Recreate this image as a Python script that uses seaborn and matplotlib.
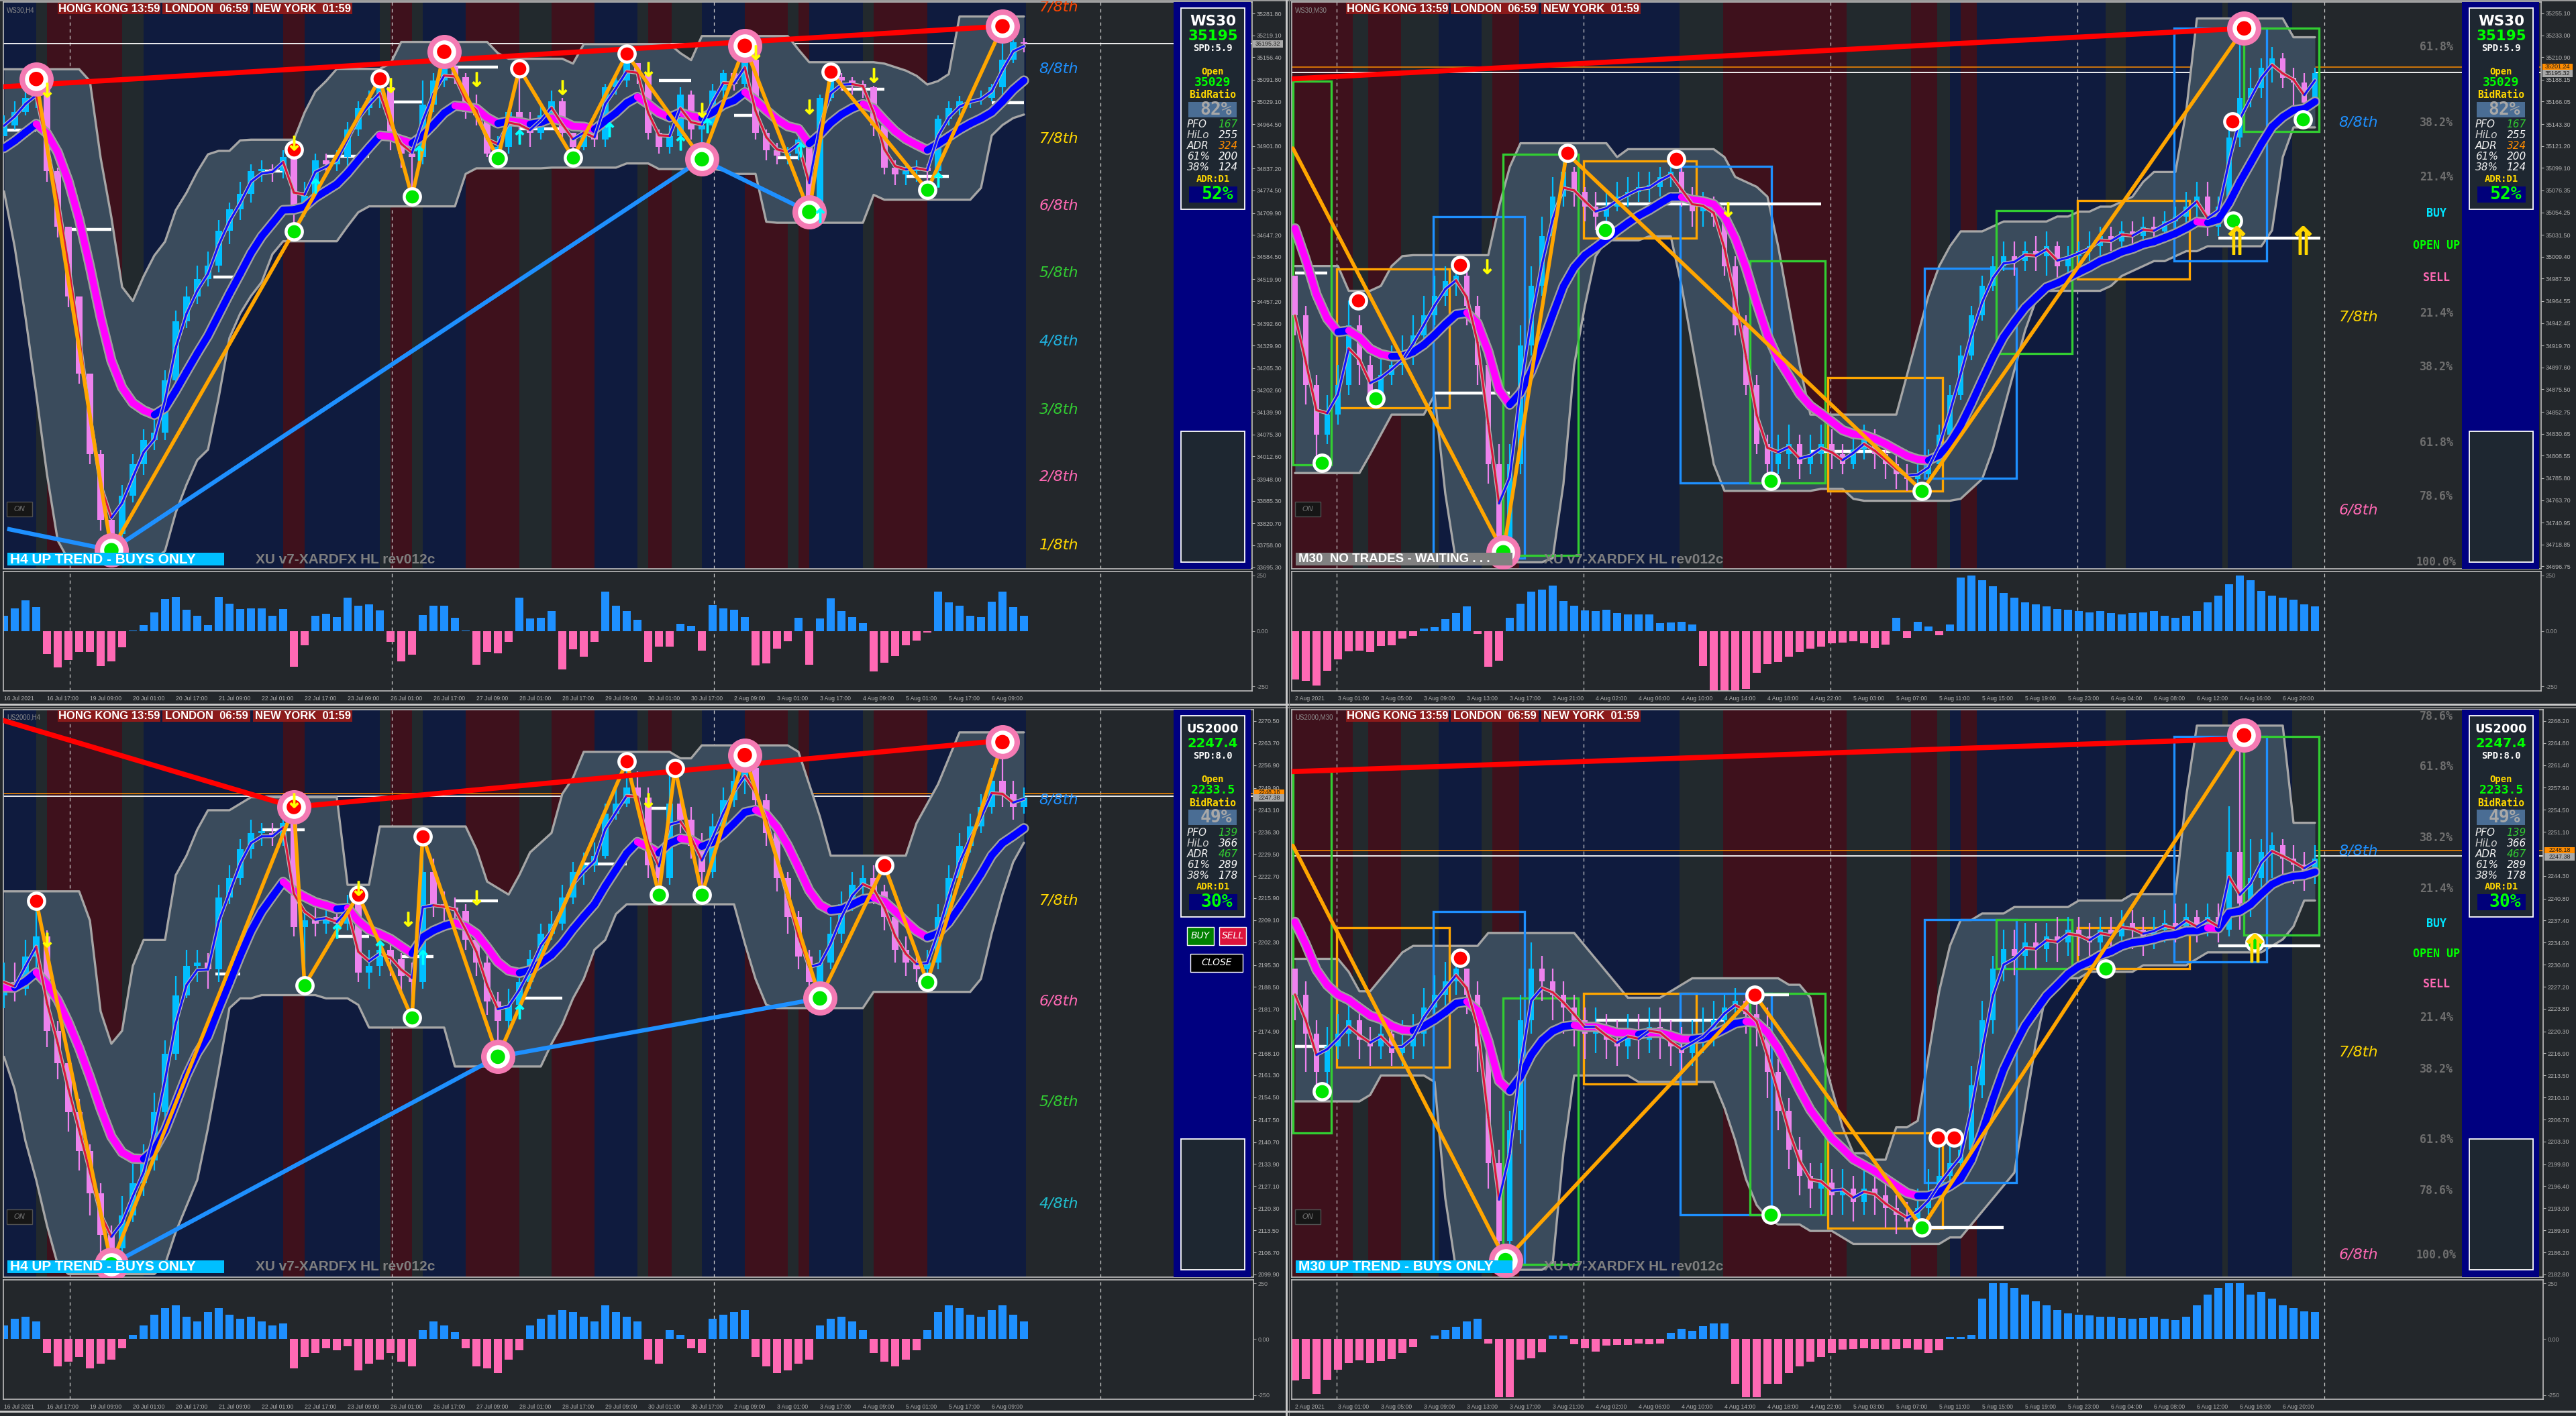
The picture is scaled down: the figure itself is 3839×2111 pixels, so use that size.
import numpy as np
import pandas as pd
import matplotlib
matplotlib.use("Agg")
import matplotlib.pyplot as plt
import seaborn as sns
from matplotlib.patches import Rectangle
from matplotlib.collections import LineCollection
from matplotlib import font_manager

W, H, DPI = 3839, 2111, 100

# ====================== DATA ======================
H4_dates = ["16 Jul 2021", "16 Jul 17:00", "19 Jul 09:00", "20 Jul 01:00", "20 Jul 17:00", "21 Jul 09:00",
            "22 Jul 01:00", "22 Jul 17:00", "23 Jul 09:00", "26 Jul 01:00", "26 Jul 17:00", "27 Jul 09:00",
            "28 Jul 01:00", "28 Jul 17:00", "29 Jul 09:00", "30 Jul 01:00", "30 Jul 17:00", "2 Aug 09:00",
            "3 Aug 01:00", "3 Aug 17:00", "4 Aug 09:00", "5 Aug 01:00", "5 Aug 17:00", "6 Aug 09:00"]
M30_dates = ["2 Aug 2021", "3 Aug 01:00", "3 Aug 05:00", "3 Aug 09:00", "3 Aug 13:00", "3 Aug 17:00",
             "3 Aug 21:00", "4 Aug 02:00", "4 Aug 06:00", "4 Aug 10:00", "4 Aug 14:00", "4 Aug 18:00",
             "4 Aug 22:00", "5 Aug 03:00", "5 Aug 07:00", "5 Aug 11:00", "5 Aug 15:00", "5 Aug 19:00",
             "5 Aug 23:00", "6 Aug 04:00", "6 Aug 08:00", "6 Aug 12:00", "6 Aug 16:00", "6 Aug 20:00"]

# session stripes in candle-index units (R = Asia red, N = navy, G = gray)
H4_st_s = [-0.1, 3, 4, 11, 13, 26, 28, 35, 36, 38, 39, 43, 48, 51, 55, 59, 60, 62.2, 65, 69, 73, 74, 75, 80, 81, 86]
H4_st_e = [3, 4, 11, 13, 26, 28, 35, 36, 38, 39, 43, 48, 51, 55, 59, 60, 62.2, 65, 69, 73, 74, 75, 80, 81, 86, 95.2]
H4_st_k = "NGRGNRNGRGNRGRNGRGNRGRNGRN"
M30_st_s = [-0.4, 5.4, 6.8, 9.9, 13.4, 17.4, 18.4, 20.9, 35.8, 39.9, 51.4, 57.4, 59.8, 61, 62, 63.5, 75.5, 77.4, 86.4, 86.9, 92.9]
M30_st_e = [5.4, 6.8, 9.9, 13.4, 17.4, 18.4, 20.9, 35.8, 39.9, 51.4, 57.4, 59.8, 61, 62, 63.5, 75.5, 77.4, 86.4, 86.9, 92.9, 95.6]
M30_st_k = "RGRGNGRNGRGRGNRNGNGNG"
H4_seps = [6.1, 36.1, 66.1, 102.1]
M30_seps = [3.9, 26.9, 49.9, 72.9, 95.9]

# ---------- WS30 H4 ----------
TL_open0 = 34930
TL_ma0 = 34880
TL_close = [34960, 35000, 35040, 35060, 34830, 34670, 34470, 34250, 34020, 33830,
            33790, 33900, 33990, 34060, 34080, 34230, 34400, 34470, 34520, 34560,
            34660, 34720, 34765, 34830, 34835, 34830, 34870, 34725, 34760, 34860,
            34850, 34870, 34950, 35010, 35040, 35070, 34920, 34880, 34870, 35020,
            35090, 35130, 35100, 35000, 34990, 34880, 34900, 35000, 34960, 34940,
            34990, 35030, 34940, 34900, 34950, 34920, 35070, 35090, 35140, 35110,
            34940, 34900, 34930, 35050, 34950, 34960, 35060, 35110, 35080, 35150,
            34940, 34890, 34875, 34880, 34920, 34740, 35040, 35100, 35090, 35080,
            35070, 34960, 34840, 34820, 34830, 34840, 34830, 34980, 35010, 35030,
            35035, 35040, 35070, 35150, 35200, 35195]
TL_high = [34990, 35030, 35060, 35094, 35060, 34840, 34670, 34470, 34250, 34030,
           33850, 33930, 34020, 34090, 34120, 34260, 34430, 34500, 34560, 34600,
           34690, 34740, 34800, 34850, 34860, 34850, 34890, 34892, 34800, 34880,
           34880, 34890, 34970, 35030, 35060, 35095, 35070, 34930, 34890, 35090,
           35110, 35172, 35140, 35110, 35050, 34995, 34930, 35010, 35124, 35000,
           35020, 35060, 35040, 34940, 34970, 34960, 35080, 35110, 35166, 35140,
           35110, 34950, 34960, 35070, 35060, 34970, 35080, 35120, 35120, 35189,
           35150, 34950, 34910, 34900, 34930, 34920, 35050, 35114, 35110, 35100,
           35090, 35075, 34960, 34860, 34850, 34860, 34850, 34990, 35030, 35045,
           35050, 35060, 35080, 35245, 35215, 35210]
TL_low = [34930, 34950, 34990, 35010, 34800, 34640, 34440, 34220, 33990, 33800,
          33744, 33770, 33880, 33960, 34030, 34060, 34210, 34380, 34450, 34500,
          34540, 34620, 34690, 34740, 34800, 34800, 34810, 34657, 34700, 34740,
          34820, 34830, 34840, 34930, 34990, 35010, 34890, 34840, 34757, 34850,
          35000, 35070, 35080, 34980, 34960, 34870, 34866, 34880, 34940, 34900,
          34920, 34980, 34920, 34868, 34890, 34900, 34900, 35050, 35070, 35080,
          34920, 34880, 34880, 34910, 34920, 34864, 34940, 35040, 35060, 35060,
          34920, 34860, 34850, 34850, 34860, 34713, 34710, 35030, 35060, 35050,
          35040, 34930, 34820, 34790, 34790, 34800, 34776, 34810, 34960, 34990,
          35010, 35020, 35030, 35030, 35140, 35170]
TL_hist = [70, 102, 138, 108, -105, -165, -131, -96, -96, -158,
           -137, -74, 3, 27, 84, 144, 153, 97, 70, 27,
           153, 123, 100, 102, 102, 70, 99, -161, -63, 70,
           78, 63, 150, 114, 120, 93, -50, -138, -107, 72,
           114, 114, 60, 2, -152, -96, -101, -50, 150, 57,
           60, 90, -173, -84, -117, -50, 177, 114, 90, 51,
           -140, -70, -70, 33, 24, -90, 117, 102, 96, 63,
           -156, -147, -81, -47, 60, -153, 57, 147, 90, 63,
           36, -183, -144, -114, -63, -42, -6, 177, 129, 114,
           69, 63, 132, 177, 108, 69]
TL_zz_i = [3, 10, 27, 35, 38, 41, 46, 48, 53, 58, 65, 69, 75, 77, 86, 93]
TL_zz_p = [35094, 33744, 34657, 35095, 34757, 35172, 34866, 35124, 34868, 35166, 34864, 35189, 34713, 35114, 34776, 35245]
TL_red_i = [27, 35, 48, 58, 77]
TL_red_p = [34892, 35095, 35124, 35166, 35114]
TL_grn_i = [27, 38, 46, 53, 86]
TL_grn_p = [34657, 34757, 34866, 34868, 34776]
TL_tgt_i = [3, 10, 41, 65, 69, 75, 93]
TL_tgt_p = [35094, 33744, 35172, 34864, 35189, 34713, 35245]
TL_tgt_c = "rgrgrgr"
TL_redline = [(-0.4, 35071, 93, 35245)]
TL_blueline = [(0.3, 33805, 10, 33744), (10, 33744, 65, 34864), (65, 34864, 75, 34713)]
TL_dn_i = [4, 27, 36, 44, 52, 60, 65, 70, 75, 81]
TL_dn_p = [35062, 34910, 35076, 35093, 35070, 35122, 35006, 35170, 35014, 35105]
TL_up_i = [29, 38.6, 48, 56.4, 63, 65.5, 74.2, 76, 87]
TL_up_p = [34787, 34883, 34929, 34950, 34910, 34960, 34891, 34704, 34806]
TL_whites = [(0, 3, 34948), (6, 10, 34663), (19.5, 22, 34527), (24, 26, 34830), (30, 34, 34872), (36, 39, 35028),
             (42, 46, 35129), (48, 52, 34951), (61, 64, 35090), (68, 70, 34990), (72, 74, 34868), (78, 82, 35064),
             (84, 88, 34815), (92, 95, 35026)]
TL_yticks = [35281.80, 35219.10, 35156.40, 35091.80, 35029.10, 34964.50, 34901.80, 34837.20, 34774.50, 34709.90,
             34647.20, 34584.50, 34519.90, 34457.20, 34392.60, 34329.90, 34265.30, 34202.60, 34139.90, 34075.30,
             34012.60, 33948.00, 33885.30, 33820.70, 33758.00, 33695.30]

# ---------- WS30 M30 ----------
TR_open0 = 34990
TR_ma0 = 35060
TR_close = [34950, 34880, 34830, 34850, 34880, 34940, 34900, 34870, 34890, 34900,
            34910, 34930, 34950, 34970, 34985, 34990, 34960, 34900, 34800, 34720,
            34800, 34920, 34980, 35030, 35070, 35095, 35075, 35060, 35050, 35060,
            35070, 35075, 35080, 35080, 35090, 35095, 35070, 35055, 35060, 35050,
            35000, 34940, 34880, 34820, 34800, 34810, 34820, 34800, 34810, 34820,
            34810, 34800, 34815, 34825, 34810, 34800, 34790, 34785, 34790, 34800,
            34830, 34870, 34910, 34950, 34980, 35000, 35010, 35005, 35015, 35010,
            35020, 35000, 35010, 35015, 35020, 35030, 35025, 35035, 35030, 35040,
            35035, 35045, 35050, 35060, 35070, 35040, 35060, 35130, 35170, 35180,
            35200, 35210, 35190, 35185, 35165, 35195]
TR_high = [34990, 34960, 34890, 34870, 34900, 34965, 34950, 34910, 34910, 34920,
           34930, 34950, 34970, 34990, 35000, 35001, 34995, 34970, 34910, 34820,
           34820, 34940, 35000, 35050, 35090, 35114, 35100, 35080, 35075, 35075,
           35085, 35090, 35095, 35095, 35100, 35108, 35100, 35080, 35075, 35070,
           35060, 35010, 34950, 34890, 34830, 34830, 34840, 34830, 34830, 34840,
           34835, 34820, 34830, 34840, 34835, 34820, 34810, 34800, 34805, 34815,
           34840, 34880, 34920, 34960, 34990, 35010, 35025, 35025, 35025, 35030,
           35035, 35025, 35020, 35025, 35035, 35040, 35040, 35045, 35045, 35050,
           35050, 35055, 35060, 35075, 35085, 35085, 35070, 35146, 35240, 35200,
           35210, 35221, 35215, 35200, 35195, 35200]
TR_low = [34930, 34860, 34801, 34820, 34840, 34870, 34880, 34866, 34860, 34880,
          34890, 34900, 34920, 34940, 34960, 34970, 34940, 34880, 34780, 34711,
          34715, 34790, 34910, 34970, 35020, 35060, 35060, 35045, 35036, 35040,
          35055, 35060, 35065, 35065, 35070, 35080, 35060, 35040, 35040, 35040,
          34990, 34930, 34870, 34810, 34783, 34790, 34795, 34785, 34790, 34800,
          34795, 34790, 34795, 34805, 34795, 34785, 34775, 34773, 34775, 34785,
          34795, 34825, 34865, 34905, 34945, 34975, 34995, 34990, 34995, 34995,
          34990, 34985, 34990, 35000, 35005, 35010, 35015, 35015, 35020, 35025,
          35025, 35030, 35035, 35040, 35050, 35030, 35030, 35046, 35120, 35160,
          35170, 35185, 35180, 35160, 35150, 35160]
TR_hist = [-218, -225, -245, -178, -128, -93, -88, -95, -69, -64,
           -34, -23, 10, 18, 52, 82, 112, -12, -160, -135,
           60, 124, 178, 185, 205, 135, 114, 92, 91, 95,
           82, 74, 75, 76, 35, 38, 42, 28, -157, -270,
           -270, -270, -260, -188, -150, -139, -116, -96, -81, -70,
           -56, -51, -45, -56, -77, -61, 58, -30, 40, 20,
           -20, 30, 240, 250, 230, 200, 170, 150, 130, 120,
           110, 100, 95, 90, 85, 90, 80, 75, 80, 85,
           90, 70, 60, 70, 90, 130, 160, 210, 250, 230,
           180, 160, 150, 140, 120, 110]
TR_zz_i = [-0.2, 19.4, 25.3, 58.4, 88.4]
TR_zz_p = [35119, 34711, 35114, 34773, 35240]
TR_red_i = [5.9, 15.4, 25.4, 35.5, 87.3]
TR_red_p = [34965, 35001, 35114, 35108, 35146]
TR_grn_i = [2.5, 7.5, 28.9, 44.3, 58.4, 87.4, 93.9]
TR_grn_p = [34801, 34866, 35036, 34783, 34773, 35046, 35148]
TR_tgt_i = [19.4, 88.4]
TR_tgt_p = [34711, 35240]
TR_tgt_c = "gr"
TR_redline = [(-0.3, 35189, 88.4, 35240)]
TR_boxes = [(-0.2, 3.4, 34799, 35187, 'g'), (3.9, 14.4, 34857, 34997, 'o'), (12.9, 21.4, 34705, 35050, 'b'),
            (19.4, 26.4, 34708, 35113, 'g'), (26.9, 37.4, 35028, 35106, 'o'), (35.9, 44.4, 34781, 35101, 'b'),
            (42.4, 49.4, 34781, 35005, 'g'), (49.6, 60.3, 34773, 34887, 'o'), (58.6, 67.2, 34786, 34998, 'b'),
            (65.3, 72.4, 34912, 35056, 'g'), (72.9, 83.3, 34987, 35066, 'o'), (81.9, 90.5, 35005, 35240, 'b'),
            (88.4, 95.4, 35136, 35240, 'g')]
TR_whites = [(0, 3, 34993), (13, 20, 34872), (28, 49, 35063), (48, 57, 34813), (86, 95.5, 35028)]
TR_dn_i = [17.9, 40.3]
TR_dn_p = [35000, 35057]
TR_big_i = [87.7, 93.9]
TR_big_p = [35026, 35026]
TR_yticks = [35255.10, 35233.00, 35210.90, 35188.15, 35166.05, 35143.30, 35121.20, 35099.10, 35076.35, 35054.25,
             35031.50, 35009.40, 34987.30, 34964.55, 34942.45, 34919.70, 34897.60, 34875.50, 34852.75, 34830.65,
             34808.55, 34785.80, 34763.70, 34740.95, 34718.85, 34696.75]

# ---------- US2000 H4 ----------
BL_open0 = 2186
BL_ma0 = 2188
BL_close = [2190, 2188, 2198, 2204, 2175, 2165, 2150, 2138, 2125, 2112,
            2108, 2118, 2128, 2135, 2150, 2168, 2186, 2195, 2196, 2194,
            2216, 2222, 2231, 2236, 2236, 2235, 2239, 2207, 2209, 2208,
            2210, 2208, 2214, 2193, 2195, 2200, 2197, 2192, 2190, 2224,
            2214, 2213, 2212, 2203, 2196, 2184, 2178, 2183, 2190, 2197,
            2205, 2208, 2216, 2224, 2226, 2229, 2242, 2245, 2250, 2247,
            2226, 2222, 2245, 2240, 2232, 2224, 2238, 2246, 2252, 2256,
            2246, 2236, 2222, 2210, 2198, 2190, 2196, 2205, 2214, 2220,
            2222, 2218, 2210, 2200, 2196, 2194, 2196, 2210, 2222, 2232,
            2238, 2244, 2252, 2248, 2244, 2247]
BL_high = [2196, 2196, 2203, 2215, 2206, 2178, 2168, 2154, 2140, 2128,
           2115, 2124, 2134, 2140, 2156, 2172, 2192, 2200, 2200, 2199,
           2220, 2226, 2234, 2240, 2239, 2239, 2242, 2244, 2212, 2213,
           2213, 2213, 2217, 2217, 2200, 2204, 2203, 2199, 2196, 2235,
           2228, 2218, 2216, 2214, 2206, 2199, 2187, 2188, 2193, 2200,
           2208, 2212, 2220, 2227, 2230, 2233, 2245, 2250, 2258, 2255,
           2250, 2230, 2256, 2250, 2244, 2236, 2242, 2250, 2256, 2260,
           2258, 2248, 2238, 2224, 2212, 2200, 2200, 2210, 2218, 2224,
           2226, 2226, 2220, 2212, 2204, 2200, 2200, 2214, 2226, 2236,
           2242, 2248, 2256, 2264, 2252, 2250]
BL_low = [2182, 2184, 2186, 2194, 2170, 2160, 2144, 2132, 2118, 2106,
          2103, 2106, 2116, 2124, 2132, 2148, 2166, 2185, 2190, 2188,
          2190, 2214, 2220, 2228, 2232, 2232, 2232, 2204, 2189, 2204,
          2205, 2205, 2206, 2190, 2188, 2192, 2192, 2186, 2179, 2188,
          2210, 2208, 2208, 2200, 2192, 2180, 2167, 2174, 2180, 2188,
          2194, 2203, 2206, 2214, 2220, 2224, 2228, 2240, 2244, 2243,
          2222, 2217, 2220, 2236, 2228, 2217, 2222, 2236, 2244, 2248,
          2242, 2232, 2218, 2205, 2194, 2186, 2185, 2194, 2202, 2212,
          2216, 2214, 2206, 2196, 2192, 2190, 2190, 2194, 2208, 2220,
          2230, 2236, 2242, 2244, 2240, 2242]
BL_hist = [60, 90, 100, 80, -60, -120, -100, -80, -130, -110,
           -90, -40, 20, 60, 110, 140, 150, 100, 80, 120,
           140, 110, 90, 100, 80, 60, 70, -130, -80, -60,
           -40, -50, -30, -140, -110, -90, -60, -100, -120, 40,
           80, 60, 30, -40, -120, -130, -150, -90, -50, 60,
           90, 110, 130, 120, 100, 80, 150, 120, 100, 80,
           -90, -110, 40, 20, -40, -60, 90, 110, 120, 130,
           -80, -120, -150, -140, -110, -90, 60, 90, 100, 80,
           40, -60, -100, -120, -90, -50, 40, 120, 150, 140,
           110, 100, 130, 150, 110, 80]
BL_zz_i = [3, 10, 27, 28, 33, 38, 39, 46, 58, 61, 62.5, 65, 69, 76, 82, 86, 93]
BL_zz_p = [2215, 2103, 2244, 2189, 2217, 2179, 2235, 2167, 2258, 2217, 2256, 2217, 2260, 2185, 2226, 2190, 2264]
BL_red_i = [3, 33, 39, 58, 62.5, 82]
BL_red_p = [2215, 2217, 2235, 2258, 2256, 2226]
BL_grn_i = [28, 38, 61, 65, 86]
BL_grn_p = [2189, 2179, 2217, 2217, 2190]
BL_tgt_i = [10, 27, 46, 69, 76, 93]
BL_tgt_p = [2103, 2244, 2167, 2260, 2185, 2264]
BL_tgt_c = "grgrgr"
BL_redline = [(-0.4, 2271, 27, 2244), (27, 2244, 93, 2264.5)]
BL_blueline = [(10, 2103, 46, 2167), (46, 2167, 76, 2185)]
BL_dn_i = [4, 27, 33, 37.6, 44, 60]
BL_dn_p = [2203, 2246, 2219, 2209.5, 2216, 2246]
BL_up_i = [31, 35, 39, 48]
BL_up_p = [2205.7, 2200.6, 2197.7, 2181]
BL_whites = [(19.7, 22, 2192.6), (24, 28, 2237), (31, 34, 2204), (37, 40, 2198), (42, 46, 2215),
             (48, 52, 2185), (54, 58, 2226.5), (60, 62, 2243.7)]
BL_yticks = [2270.50, 2263.70, 2256.90, 2249.90, 2243.10, 2236.30, 2229.50, 2222.70, 2215.90, 2209.10,
             2202.30, 2195.30, 2188.50, 2181.70, 2174.90, 2168.10, 2161.30, 2154.50, 2147.50, 2140.70,
             2133.90, 2127.10, 2120.30, 2113.50, 2106.70, 2099.90]

# ---------- US2000 M30 ----------
BR_open0 = 2230
BR_ma0 = 2240
BR_close = [2226, 2220, 2214, 2218, 2220, 2222, 2219, 2218, 2220, 2217,
            2218, 2220, 2224, 2226, 2228, 2230, 2226, 2218, 2200, 2188,
            2205, 2222, 2230, 2228, 2226, 2224, 2222, 2220, 2221, 2219,
            2218, 2220, 2219, 2221, 2220, 2218, 2217, 2219, 2220, 2222,
            2224, 2225, 2223, 2221, 2214, 2208, 2202, 2198, 2196, 2197,
            2195, 2196, 2194, 2196, 2195, 2193, 2192, 2191, 2193, 2195,
            2198, 2200, 2202, 2212, 2222, 2230, 2233, 2232, 2234, 2233,
            2235, 2234, 2236, 2235, 2234, 2236, 2235, 2237, 2236, 2235,
            2236, 2237, 2236, 2238, 2236, 2238, 2236, 2248, 2240, 2244,
            2248, 2249, 2247, 2246, 2245, 2247]
BR_high = [2230, 2228, 2222, 2221, 2223, 2225, 2224, 2221, 2223, 2222,
           2222, 2223, 2227, 2229, 2231, 2232, 2230, 2228, 2220, 2202,
           2208, 2226, 2234, 2232, 2230, 2228, 2226, 2224, 2224, 2223,
           2222, 2223, 2223, 2224, 2224, 2222, 2221, 2222, 2224, 2225,
           2226, 2227, 2226, 2226, 2224, 2216, 2210, 2204, 2200, 2200,
           2199, 2199, 2198, 2199, 2198, 2197, 2195, 2194, 2196, 2199,
           2204, 2204, 2205, 2215, 2225, 2232, 2236, 2236, 2237, 2237,
           2237, 2238, 2238, 2238, 2237, 2238, 2238, 2239, 2239, 2238,
           2238, 2239, 2240, 2240, 2239, 2240, 2240, 2255, 2266, 2250,
           2250, 2251, 2250, 2249, 2248, 2249]
BR_low = [2222, 2214, 2211, 2212, 2216, 2218, 2216, 2215, 2216, 2215,
          2215, 2216, 2218, 2222, 2224, 2226, 2223, 2214, 2196, 2185,
          2186, 2203, 2220, 2225, 2222, 2220, 2218, 2216, 2217, 2216,
          2215, 2216, 2216, 2217, 2216, 2215, 2214, 2215, 2217, 2218,
          2220, 2222, 2220, 2218, 2210, 2205, 2199, 2195, 2193, 2192,
          2192, 2192, 2191, 2192, 2192, 2190, 2189, 2190, 2190, 2192,
          2194, 2196, 2198, 2200, 2210, 2220, 2228, 2229, 2230, 2230,
          2231, 2231, 2232, 2232, 2231, 2232, 2232, 2233, 2233, 2232,
          2233, 2234, 2234, 2235, 2234, 2235, 2234, 2235, 2236, 2238,
          2242, 2244, 2244, 2243, 2242, 2243]
BR_hist = [-183, -178, -245, -180,
           -137, -107, -95, -105, -97, -87, -60, -35, 0,
           15, 40, 55, 80, 90,
           -20, -260, -260, -92, -85, -57,
           17, 15,
           -21, -40, -55, -28, -25, -25, -20, -23, -18,
           27, 45, 37, 57, 70, 70,
           -200, -260, -260, -200, -200, -150, -120, -100, -80, -60, -45, -42, -40,
           -42, -45, -42, -40, -45, -60, -50, 10,
           10, 20, 180, 250, 250, 230, 200, 170, 150, 130,
           115, 110, 105, 100, 100, 95, 90, 95, 100, 90,
           85, 100, 150, 200, 230, 250, 250, 200, 210, 180,
           150, 140, 125, 120]
BR_zz_i = [-0.2, 19.6, 42.8, 58.4, 88.4]
BR_zz_p = [2249, 2185, 2226, 2190, 2266]
BR_red_i = [15.4, 42.8, 59.9, 61.4]
BR_red_p = [2231.7, 2226, 2203.9, 2203.9]
BR_grn_i = [2.5, 44.3, 58.4, 75.5, 89.4]
BR_grn_p = [2211, 2192, 2190, 2230, 2234]
BR_tgt_i = [19.6, 88.4]
BR_tgt_p = [2185, 2266]
BR_tgt_c = "gr"
BR_redline = [(-0.3, 2260.4, 88.4, 2265.5)]
BR_boxes = [(-0.2, 3.4, 2204.6, 2260.4, 'g'), (3.9, 14.4, 2214.8, 2236.3, 'o'), (12.9, 21.4, 2184.3, 2238.8, 'b'),
            (19.4, 26.4, 2184.3, 2225.4, 'g'), (26.9, 37.4, 2212.2, 2226.2, 'o'), (35.9, 44.4, 2192.0, 2226.2, 'b'),
            (42.4, 49.4, 2192.0, 2226.2, 'g'), (49.6, 60.3, 2189.9, 2204.6, 'o'), (58.6, 67.2, 2197.0, 2237.6, 'b'),
            (65.3, 72.4, 2230.0, 2237.6, 'g'), (72.9, 83.3, 2230.0, 2236.3, 'o'), (81.9, 90.5, 2231.0, 2265.8, 'b'),
            (88.4, 95.4, 2235.2, 2265.8, 'g')]
BR_whites = [(0, 3, 2218), (28, 40, 2222), (42, 46, 2226), (58, 66, 2190), (86, 95.5, 2233.5)]
BR_big_i = [89.4]
BR_big_p = [2233.2]
BR_yticks = [2268.20, 2264.80, 2261.40, 2257.90, 2254.50, 2251.10, 2244.30, 2240.80, 2237.40, 2234.00,
             2230.60, 2227.20, 2223.80, 2220.30, 2216.90, 2213.50, 2210.10, 2206.70, 2203.30, 2199.80,
             2196.40, 2193.00, 2189.60, 2186.20, 2182.80]

INFO_WS30 = ["WS30", "35195", "SPD:5.9", "35029", "82%", "52%"]
INFO_WS30_rows = [("PFO", "167"), ("HiLo", "255"), ("ADR", "324"), ("61%", "200"), ("38%", "124")]
INFO_US = ["US2000", "2247.4", "SPD:8.0", "2233.5", "49%", "30%"]
INFO_US_rows = [("PFO", "139"), ("HiLo", "366"), ("ADR", "467"), ("61%", "289"), ("38%", "178")]

# ====================== STYLE ======================
sns.set_theme(style="dark")
plt.rcParams['font.family'] = ['DejaVu Sans']

_names = {f.name for f in font_manager.fontManager.ttflist}
if 'Liberation Sans Narrow' in _names:
    COND, NARROW_OK = 'Liberation Sans Narrow', True
elif 'Liberation Sans' in _names:
    COND, NARROW_OK = 'Liberation Sans', False
else:
    COND, NARROW_OK = 'DejaVu Sans', False
NARROW = [COND, 'DejaVu Sans']
ARIAL = ['Liberation Sans', 'DejaVu Sans']
MONO = 'DejaVu Sans Mono'

BG = '#23272b'
STRIPE = {'R': '#3e111c', 'N': '#0f1b3e', 'G': '#22292d'}
ENV = '#3a4b5c'
ENV_EDGE = '#a6a6a6'
CUP, CDN = '#00bfff', '#ee82ee'
HB, HP = '#1e90ff', '#ff69b4'
BOXC = {'g': '#32cd32', 'o': '#ffa500', 'b': '#1e90ff'}

fig = plt.figure(figsize=(W / DPI, H / DPI), dpi=DPI)
fig.patch.set_facecolor(BG)


def prect(x0, y0, x1, y1):
    return [x0 / W, 1 - y1 / H, (x1 - x0) / W, (y1 - y0) / H]


def seg_colored(ax, x, y, cu, cd, lw, z):
    pts = np.column_stack([x, y])
    segs = np.stack([pts[:-1], pts[1:]], axis=1)
    cols = [cu if y[k + 1] >= y[k] else cd for k in range(len(y) - 1)]
    ax.add_collection(LineCollection(segs, colors=cols, linewidths=lw, zorder=z,
                                     capstyle='round', joinstyle='round'))


def draw_panel(P):
    close = np.asarray(P['close'], float)
    high = np.asarray(P['high'], float)
    low = np.asarray(P['low'], float)
    n = min(len(close), len(high), len(low))
    close, high, low = close[:n], high[:n], low[:n]
    idx = np.arange(n)
    opn = np.r_[P['open0'], close[:-1]]
    x0, x1 = P['xlim']
    y0, y1 = P['ylim']

    ax = fig.add_axes(prect(*P['main']))
    ax.set_facecolor(BG)
    for s, e, k in zip(P['st_s'], P['st_e'], P['st_k']):
        ax.axvspan(s, e, color=STRIPE[k], lw=0, zorder=0.2)
    for xv in P['seps']:
        ax.axvline(xv, color='#cfcfcf', lw=0.9, ls=(0, (4, 4)), zorder=0.6)
    if P.get('ask') is not None:
        ax.axhline(P['ask'], color='#ff8c00', lw=1.1, zorder=0.7)
    ax.axhline(P['bid'], color='white', lw=1.3, zorder=0.7)

    pad = P['pad']
    up_env = pd.Series(high).rolling(9, center=True, min_periods=1).max().to_numpy() + pad
    lo_env = pd.Series(low).rolling(9, center=True, min_periods=1).min().to_numpy() - pad
    ax.fill_between(idx, lo_env, up_env, color=ENV, lw=0, zorder=1)
    sns.lineplot(x=idx, y=up_env, color=ENV_EDGE, linewidth=2.4, ax=ax, zorder=1.2, sort=False, legend=False)
    sns.lineplot(x=idx, y=lo_env, color=ENV_EDGE, linewidth=2.4, ax=ax, zorder=1.2, sort=False, legend=False)

    for (a, b, pl, ph, c) in P.get('boxes', []):
        ax.add_patch(Rectangle((a, pl), b - a, ph - pl, fill=False, ec=BOXC[c], lw=2.4, zorder=3))
    for (a, b, p) in P['whites']:
        ax.plot([a, b], [p, p], color='white', lw=3.2, zorder=3.5, solid_capstyle='butt')

    cols = np.where(close >= opn, CUP, CDN)
    ax.vlines(idx, low, high, colors=cols, lw=1.6, zorder=4)
    minh = (y1 - y0) * 0.003
    bot = np.minimum(opn, close)
    hgt = np.maximum(np.abs(close - opn), minh)
    ax.bar(idx, hgt, bottom=bot, width=P['bw'], color=cols, lw=0, zorder=4.1)

    seeded = np.r_[P['ma0'], close]
    slow = pd.Series(seeded).ewm(span=9, adjust=False).mean().to_numpy()[1:]
    fast = pd.Series(close).ewm(span=2, adjust=False).mean().to_numpy()
    sns.lineplot(x=idx, y=slow, color='#9e9e9e', linewidth=11, ax=ax, zorder=5, sort=False, legend=False)
    seg_colored(ax, idx, slow, '#0000ff', '#ff00ff', 7.5, 5.1)
    sns.lineplot(x=idx, y=fast, color='#b8b8b8', linewidth=4.0, ax=ax, zorder=5.5, sort=False, legend=False)
    seg_colored(ax, idx, fast, '#1010ff', '#dc143c', 2.2, 5.6)

    sns.lineplot(x=P['zz_i'], y=P['zz_p'], color='#ffa500', linewidth=4.0, ax=ax, zorder=6, sort=False, legend=False)
    for (a, pa, b, pb) in P['redline']:
        ax.plot([a, b], [pa, pb], color='#ff0000', lw=5.5, zorder=6.5, solid_capstyle='butt')
    for (a, pa, b, pb) in P.get('blueline', []):
        ax.plot([a, b], [pa, pb], color='#1e90ff', lw=4.6, zorder=6.4, solid_capstyle='butt')

    sns.scatterplot(x=P['red_i'], y=P['red_p'], s=430, color='white', linewidth=0, ax=ax, zorder=8, legend=False)
    sns.scatterplot(x=P['red_i'], y=P['red_p'], s=200, color='#ff0000', linewidth=0, ax=ax, zorder=8.1, legend=False)
    sns.scatterplot(x=P['grn_i'], y=P['grn_p'], s=430, color='white', linewidth=0, ax=ax, zorder=8, legend=False)
    sns.scatterplot(x=P['grn_i'], y=P['grn_p'], s=200, color='#00e600', linewidth=0, ax=ax, zorder=8.1, legend=False)
    sns.scatterplot(x=P['tgt_i'], y=P['tgt_p'], s=1350, color='#f47ab3', linewidth=0, ax=ax, zorder=8.2, legend=False)
    sns.scatterplot(x=P['tgt_i'], y=P['tgt_p'], s=620, color='white', linewidth=0, ax=ax, zorder=8.3, legend=False)
    tcol = ['#ff0000' if c == 'r' else '#00e600' for c in P['tgt_c']]
    ax.scatter(P['tgt_i'], P['tgt_p'], s=240, c=tcol, linewidths=0, zorder=8.4)
    if P.get('dn_i'):
        ax.scatter(P['dn_i'], P['dn_p'], marker=r'$\downarrow$', s=230, color='#ffff00', zorder=8.6)
    if P.get('up_i'):
        ax.scatter(P['up_i'], P['up_p'], marker=r'$\uparrow$', s=230, color='#00ffff', zorder=8.6)
    if P.get('big_i'):
        ax.scatter(P['big_i'], P['big_p'], marker=r'$\Uparrow$', s=900, color='#ffd700', zorder=8.7)

    ax.set_xlim(x0, x1)
    ax.set_ylim(y0, y1)
    ax.set_xlabel('')
    ax.set_ylabel('')
    ax.grid(False)
    ax.set_xticks([])
    ax.yaxis.tick_right()
    ax.set_yticks(P['yticks'])
    ax.set_yticklabels([f"{v:.2f}" for v in P['yticks']], fontfamily=NARROW)
    ax.tick_params(axis='y', colors='#b4b4b4', labelsize=7 if NARROW_OK else 6.5, length=3, width=0.8, pad=1.5,
                   direction='out', right=True, left=False, labelright=True, labelleft=False)
    for sp in ax.spines.values():
        sp.set_color('#bdbdbd')
        sp.set_linewidth(1.2)

    hx = fig.add_axes(prect(*P['hist']))
    hx.set_facecolor(BG)
    hv = np.asarray(P['hist_v'], float)
    hx.bar(np.arange(len(hv)), hv, width=0.72, color=np.where(hv >= 0, HB, HP), lw=0, zorder=2)
    for xv in P['seps']:
        hx.axvline(xv, color='#cfcfcf', lw=0.9, ls=(0, (4, 4)), zorder=1)
    hx.set_xlim(x0, x1)
    hx.set_ylim(*P['hylim'])
    hx.grid(False)
    hx.yaxis.tick_right()
    hx.set_yticks([250, 0, -250])
    hx.set_yticklabels(['250', '0.00', '-250'], fontfamily=NARROW)
    hx.set_xticks(np.arange(0, 4 * len(P['dates']), 4))
    hx.set_xticklabels(P['dates'], fontfamily=NARROW, ha='left')
    hx.tick_params(axis='x', colors='#b4b4b4', labelsize=7 if NARROW_OK else 6.2, length=3, width=0.8, pad=2)
    hx.tick_params(axis='y', colors='#9a9a9a', labelsize=6.5, length=3, width=0.8, pad=1.5,
                   right=True, left=False, labelright=True, labelleft=False)
    for sp in hx.spines.values():
        sp.set_color('#bdbdbd')
        sp.set_linewidth(1.2)


PANELS = [
    dict(main=(5, 3, 1866, 848), hist=(5, 852, 1866, 1030), xlim=(-0.06, 116.25), ylim=(33690.5, 35314.5),
         hylim=(-270, 268), close=TL_close, high=TL_high, low=TL_low, open0=TL_open0, ma0=TL_ma0, bw=0.62,
         st_s=H4_st_s, st_e=H4_st_e, st_k=H4_st_k, seps=H4_seps, ask=None, bid=35195.32, pad=28,
         whites=TL_whites, zz_i=TL_zz_i, zz_p=TL_zz_p, redline=TL_redline, blueline=TL_blueline,
         red_i=TL_red_i, red_p=TL_red_p, grn_i=TL_grn_i, grn_p=TL_grn_p,
         tgt_i=TL_tgt_i, tgt_p=TL_tgt_p, tgt_c=TL_tgt_c, dn_i=TL_dn_i, dn_p=TL_dn_p, up_i=TL_up_i, up_p=TL_up_p,
         yticks=TL_yticks, hist_v=TL_hist, dates=H4_dates),
    dict(main=(1925, 3, 3787, 848), hist=(1925, 852, 3787, 1030), xlim=(-0.31, 116.06), ylim=(34694.3, 35266.6),
         hylim=(-270, 268), close=TR_close, high=TR_high, low=TR_low, open0=TR_open0, ma0=TR_ma0, bw=0.5,
         st_s=M30_st_s, st_e=M30_st_e, st_k=M30_st_k, seps=M30_seps, ask=35201.24, bid=35195.32, pad=10,
         boxes=TR_boxes, whites=TR_whites, zz_i=TR_zz_i, zz_p=TR_zz_p, redline=TR_redline,
         red_i=TR_red_i, red_p=TR_red_p, grn_i=TR_grn_i, grn_p=TR_grn_p,
         tgt_i=TR_tgt_i, tgt_p=TR_tgt_p, tgt_c=TR_tgt_c, dn_i=TR_dn_i, dn_p=TR_dn_p, big_i=TR_big_i, big_p=TR_big_p,
         yticks=TR_yticks, hist_v=TR_hist, dates=M30_dates),
    dict(main=(5, 1058, 1868, 1904), hist=(5, 1908, 1868, 2086), xlim=(-0.06, 116.38), ylim=(2099.05, 2274.0),
         hylim=(-268, 265), close=BL_close, high=BL_high, low=BL_low, open0=BL_open0, ma0=BL_ma0, bw=0.62,
         st_s=H4_st_s, st_e=H4_st_e, st_k=H4_st_k, seps=H4_seps, ask=2248.18, bid=2247.38, pad=3,
         whites=BL_whites, zz_i=BL_zz_i, zz_p=BL_zz_p, redline=BL_redline, blueline=BL_blueline,
         red_i=BL_red_i, red_p=BL_red_p, grn_i=BL_grn_i, grn_p=BL_grn_p,
         tgt_i=BL_tgt_i, tgt_p=BL_tgt_p, tgt_c=BL_tgt_c, dn_i=BL_dn_i, dn_p=BL_dn_p, up_i=BL_up_i, up_p=BL_up_p,
         yticks=BL_yticks, hist_v=BL_hist, dates=H4_dates),
    dict(main=(1925, 1058, 3790, 1904), hist=(1925, 1908, 3790, 2086), xlim=(-0.31, 116.25), ylim=(2182.37, 2269.96),
         hylim=(-268, 265), close=BR_close, high=BR_high, low=BR_low, open0=BR_open0, ma0=BR_ma0, bw=0.5,
         st_s=M30_st_s, st_e=M30_st_e, st_k=M30_st_k, seps=M30_seps, ask=2248.18, bid=2247.38, pad=1.5,
         boxes=BR_boxes, whites=BR_whites, zz_i=BR_zz_i, zz_p=BR_zz_p, redline=BR_redline,
         red_i=BR_red_i, red_p=BR_red_p, grn_i=BR_grn_i, grn_p=BR_grn_p,
         tgt_i=BR_tgt_i, tgt_p=BR_tgt_p, tgt_c=BR_tgt_c, big_i=BR_big_i, big_p=BR_big_p,
         yticks=BR_yticks, hist_v=BR_hist, dates=M30_dates),
]

for P in PANELS:
    draw_panel(P)

# ====================== OVERLAY (labels, panels) ======================
ov = fig.add_axes([0, 0, 1, 1], zorder=30)
ov.set_xlim(0, W)
ov.set_ylim(H, 0)
ov.axis('off')
ov.patch.set_visible(False)


def box(x0, y0, x1, y1, fc, ec='none', lw=0.0, z=1):
    ov.add_patch(Rectangle((x0, y0), x1 - x0, y1 - y0, facecolor=fc, edgecolor=ec, lw=lw, zorder=z, clip_on=False))


def T(x, y, s, color, size, fam='DejaVu Sans', weight='normal', style='normal', ha='center', va='center', z=5):
    ov.text(x, y, s, color=color, fontsize=size, fontfamily=fam, fontweight=weight, fontstyle=style,
            ha=ha, va=va, zorder=z, clip_on=False)


def info_panel(x0, y0, info, rows, valcols):
    x1 = x0 + 95
    cx = (x0 + x1) / 2
    box(x0, y0, x1, y0 + 300, '#1e2731', ec='white', lw=1.3, z=2)
    T(cx, y0 + 20, info[0], 'white', 15.5 if len(info[0]) <= 4 else 13, weight='bold')
    T(cx, y0 + 42, info[1], '#00ff00', 15.5 if len(info[1]) <= 5 else 14, weight='bold')
    T(cx, y0 + 60, info[2], 'white', 10, MONO, 'bold')
    T(cx, y0 + 95, "Open", '#ffd700', 10, MONO, 'bold')
    T(cx, y0 + 111, info[3], '#00ff00', 13, MONO, 'bold')
    T(cx, y0 + 130, "BidRatio", '#ffd700', 10.5, MONO, 'bold')
    box(x0 + 11, y0 + 140, x0 + 83, y0 + 163, '#4a6d94', z=3)
    T(cx + 5, y0 + 152, info[4], '#a8a8a8', 19, MONO, 'bold')
    for k, ((lab, val), vc) in enumerate(zip(rows, valcols)):
        yy = y0 + 174 + k * 16
        T(x0 + 9, yy, lab, '#f0f0f0' if lab != 'HiLo' else '#d0d0d0', 11, style='italic', ha='left')
        T(x0 + 85, yy, val, vc, 11, style='italic', ha='right')
    T(cx, y0 + 255, "ADR:D1", '#ffd700', 10, MONO, 'bold')
    box(x0 + 12, y0 + 266, x0 + 84, y0 + 290, '#00007a', z=3)
    T(cx + 6, y0 + 278, info[5], '#00ff00', 19, MONO, 'bold')
    box(x0, y0 + 631, x1, y0 + 826, '#1e2731', ec='white', lw=1.3, z=2)


QUADS = [
    dict(qx=0, mt=3, mb=848, sym="WS30,H4", label="H4 UP TREND - BUYS ONLY", lc='#00bfff', info=INFO_WS30,
         rows=INFO_WS30_rows, vc=['#32cd32', 'white', '#ff8c00', 'white', 'white']),
    dict(qx=1920, mt=3, mb=848, sym="WS30,M30", label="M30  NO TRADES - WAITING . . .", lc='#808080', info=INFO_WS30,
         rows=INFO_WS30_rows, vc=['#32cd32', 'white', '#ff8c00', 'white', 'white']),
    dict(qx=0, mt=1058, mb=1904, sym="US2000,H4", label="H4 UP TREND - BUYS ONLY", lc='#00bfff', info=INFO_US,
         rows=INFO_US_rows, vc=['#32cd32', 'white', '#32cd32', 'white', 'white']),
    dict(qx=1920, mt=1058, mb=1904, sym="US2000,M30", label="M30 UP TREND - BUYS ONLY", lc='#00bfff', info=INFO_US,
         rows=INFO_US_rows, vc=['#32cd32', 'white', '#32cd32', 'white', 'white']),
]

for Q in QUADS:
    qx, mt, mb = Q['qx'], Q['mt'], Q['mb']
    for (a, b, s) in [(86, 239, 'HONG KONG 13:59'), (242, 373, 'LONDON  06:59'), (377, 525, 'NEW YORK  01:59')]:
        box(qx + a, mt + 1, qx + b, mt + 18, '#8b1a1a')
        T(qx + (a + b) / 2, mt + 10, s, 'white', 12, ARIAL, 'bold')
    T(qx + 10, mt + 12, Q['sym'], '#8c8c8c', 7, NARROW, ha='left')
    box(qx + 10, mt + 745, qx + 48, mt + 767, '#161616', ec='#505050', lw=1)
    T(qx + 29, mt + 756, 'ON', '#707070', 8, style='italic')
    box(qx + 11, mt + 821, qx + 334, mt + 840, Q['lc'], z=2)
    lsz = 15 if len(Q['label']) < 26 else 13.5
    T(qx + 15, mt + 831, Q['label'], 'white', lsz, ARIAL, 'bold', ha='left')
    T(qx + 381, mt + 831, 'XU v7-XARDFX HL rev012c', '#7f7f7f', 15, ARIAL, 'bold', ha='left')
    box(qx + 1749, mt, qx + 1864, mb, '#000080', z=1)
    info_panel(qx + 1760, mt + 9, Q['info'], Q['rows'], Q['vc'])

# buttons in US2000 H4 panel
box(1769, 1382, 1809, 1409, '#008000', ec='white', lw=1, z=3)
T(1789, 1395, 'BUY', 'white', 10, style='italic')
box(1817, 1382, 1857, 1409, '#dc143c', ec='white', lw=1, z=3)
T(1837, 1395, 'SELL', 'white', 10, style='italic')
box(1774, 1422, 1852, 1449, 'black', ec='white', lw=1, z=3)
T(1813, 1435, 'CLOSE', 'white', 10, style='italic')

# murrey math labels
for (y, s, c) in [(11, '7/8th', '#ff4500'), (103, '8/8th', '#1e90ff'), (206, '7/8th', '#ffd700'),
                  (306, '6/8th', '#ff69b4'), (407, '5/8th', '#32cd32'), (509, '4/8th', '#20b2e0'),
                  (610, '3/8th', '#32cd32'), (711, '2/8th', '#ff69b4'), (812, '1/8th', '#ffd700')]:
    T(1578, y, s, c, 16, style='italic')
for (y, s, c) in [(1192, '8/8th', '#1e90ff'), (1342, '7/8th', '#ffd700'), (1493, '6/8th', '#ff69b4'),
                  (1643, '5/8th', '#32cd32'), (1794, '4/8th', '#20c0d0')]:
    T(1578, y, s, c, 16, style='italic')
for (y, s, c) in [(183, '8/8th', '#1e90ff'), (472, '7/8th', '#ffd700'), (760, '6/8th', '#ff69b4'),
                  (1268, '8/8th', '#1e90ff'), (1569, '7/8th', '#ffd700'), (1871, '6/8th', '#ff69b4')]:
    T(3515, y, s, c, 16, style='italic')
for (y, s) in [(70, '61.8%'), (183, '38.2%'), (264, '21.4%'), (467, '21.4%'), (547, '38.2%'), (660, '61.8%'),
               (740, '78.6%'), (838, '100.0%'), (1068, '78.6%'), (1143, '61.8%'), (1249, '38.2%'),
               (1325, '21.4%'), (1517, '21.4%'), (1594, '38.2%'), (1699, '61.8%'), (1775, '78.6%'),
               (1871, '100.0%')]:
    T(3631, y, s, '#6e6e6e', 12, MONO, 'bold')
for (y, s, c) in [(318, 'BUY', '#00e5ff'), (366, 'OPEN UP', '#00ff00'), (414, 'SELL', '#ff69b4'),
                  (1377, 'BUY', '#00e5ff'), (1422, 'OPEN UP', '#00ff00'), (1467, 'SELL', '#ff69b4')]:
    T(3631, y, s, c, 12, MONO, 'bold')

# price tags
for (x0, yc, s, c) in [(1867, 65, '35195.32', '#a9a9a9'),
                       (3789, 100, '35201.24', '#ff8c00'), (3789, 109, '35195.32', '#a9a9a9'),
                       (1869, 1182, '2248.18', '#ff8c00'), (1869, 1189, '2247.38', '#a9a9a9'),
                       (3792, 1268, '2248.18', '#ff8c00'), (3792, 1277, '2247.38', '#a9a9a9')]:
    box(x0, yc - 5.5, x0 + 45, yc + 5.5, c, z=6)
    T(x0 + 22.5, yc, s, '#1a1a1a', 6.5, NARROW, z=7)

# frame separators
box(0, 0, W, 2, '#9a9a9a', z=9)
box(0, 1049, W, 1052, '#c8c8c8', z=9)
box(0, 1054, W, 1056, '#7a7a7a', z=9)
box(1916, 0, 1919, H, '#c8c8c8', z=9)
box(1920.5, 0, 1922, H, '#7a7a7a', z=9)
box(0, 2103, W, 2106, '#c8c8c8', z=9)

fig.savefig("out.png", dpi=DPI, facecolor=fig.get_facecolor())
